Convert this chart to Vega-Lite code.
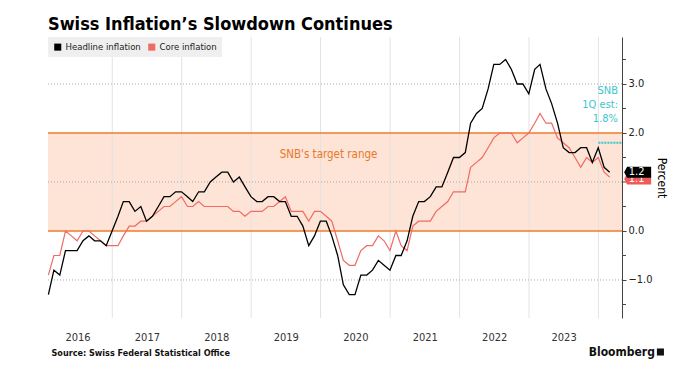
{
  "$schema": "https://vega.github.io/schema/vega-lite/v6.json",
  "width": 574,
  "height": 281,
  "autosize": "none",
  "padding": {"left": 48, "top": 37, "right": 65, "bottom": 64},
  "background": "white",
  "title": {
    "text": "Swiss Inflation’s Slowdown Continues",
    "anchor": "start",
    "frame": "group",
    "font": "DejaVu Sans Condensed, DejaVu Sans",
    "fontSize": 18,
    "fontWeight": "bold",
    "color": "#000000",
    "baseline": "alphabetic",
    "offset": 7,
    "dy": 18
  },
  "datasets": {
    "cpi": [
      {"date": "2016-01-31", "headline": -1.3, "core": -0.9},
      {"date": "2016-02-29", "headline": -0.8, "core": -0.5},
      {"date": "2016-03-31", "headline": -0.9, "core": -0.5},
      {"date": "2016-04-30", "headline": -0.4, "core": 0.0},
      {"date": "2016-05-31", "headline": -0.4, "core": -0.1},
      {"date": "2016-06-30", "headline": -0.4, "core": -0.2},
      {"date": "2016-07-31", "headline": -0.2, "core": 0.0},
      {"date": "2016-08-31", "headline": -0.1, "core": 0.0},
      {"date": "2016-09-30", "headline": -0.2, "core": -0.1},
      {"date": "2016-10-31", "headline": -0.2, "core": -0.2},
      {"date": "2016-11-30", "headline": -0.3, "core": -0.3},
      {"date": "2016-12-31", "headline": 0.0, "core": -0.3},
      {"date": "2017-01-31", "headline": 0.3, "core": -0.3},
      {"date": "2017-02-28", "headline": 0.6, "core": -0.1},
      {"date": "2017-03-31", "headline": 0.6, "core": 0.1},
      {"date": "2017-04-30", "headline": 0.4, "core": 0.1},
      {"date": "2017-05-31", "headline": 0.5, "core": 0.2},
      {"date": "2017-06-30", "headline": 0.2, "core": 0.2},
      {"date": "2017-07-31", "headline": 0.3, "core": 0.3},
      {"date": "2017-08-31", "headline": 0.5, "core": 0.4},
      {"date": "2017-09-30", "headline": 0.7, "core": 0.5},
      {"date": "2017-10-31", "headline": 0.7, "core": 0.5},
      {"date": "2017-11-30", "headline": 0.8, "core": 0.6},
      {"date": "2017-12-31", "headline": 0.8, "core": 0.7},
      {"date": "2018-01-31", "headline": 0.7, "core": 0.5},
      {"date": "2018-02-28", "headline": 0.6, "core": 0.5},
      {"date": "2018-03-31", "headline": 0.8, "core": 0.6},
      {"date": "2018-04-30", "headline": 0.8, "core": 0.5},
      {"date": "2018-05-31", "headline": 1.0, "core": 0.5},
      {"date": "2018-06-30", "headline": 1.1, "core": 0.5},
      {"date": "2018-07-31", "headline": 1.2, "core": 0.5},
      {"date": "2018-08-31", "headline": 1.2, "core": 0.5},
      {"date": "2018-09-30", "headline": 1.0, "core": 0.4},
      {"date": "2018-10-31", "headline": 1.1, "core": 0.4},
      {"date": "2018-11-30", "headline": 0.9, "core": 0.3},
      {"date": "2018-12-31", "headline": 0.7, "core": 0.4},
      {"date": "2019-01-31", "headline": 0.6, "core": 0.4},
      {"date": "2019-02-28", "headline": 0.6, "core": 0.4},
      {"date": "2019-03-31", "headline": 0.7, "core": 0.5},
      {"date": "2019-04-30", "headline": 0.7, "core": 0.5},
      {"date": "2019-05-31", "headline": 0.6, "core": 0.6},
      {"date": "2019-06-30", "headline": 0.6, "core": 0.7},
      {"date": "2019-07-31", "headline": 0.3, "core": 0.4},
      {"date": "2019-08-31", "headline": 0.3, "core": 0.4},
      {"date": "2019-09-30", "headline": 0.1, "core": 0.4},
      {"date": "2019-10-31", "headline": -0.3, "core": 0.2},
      {"date": "2019-11-30", "headline": -0.1, "core": 0.4},
      {"date": "2019-12-31", "headline": 0.2, "core": 0.4},
      {"date": "2020-01-31", "headline": 0.2, "core": 0.3},
      {"date": "2020-02-29", "headline": -0.1, "core": 0.2},
      {"date": "2020-03-31", "headline": -0.5, "core": -0.2},
      {"date": "2020-04-30", "headline": -1.1, "core": -0.6},
      {"date": "2020-05-31", "headline": -1.3, "core": -0.7},
      {"date": "2020-06-30", "headline": -1.3, "core": -0.7},
      {"date": "2020-07-31", "headline": -0.9, "core": -0.4},
      {"date": "2020-08-31", "headline": -0.9, "core": -0.3},
      {"date": "2020-09-30", "headline": -0.8, "core": -0.3},
      {"date": "2020-10-31", "headline": -0.6, "core": -0.1},
      {"date": "2020-11-30", "headline": -0.7, "core": -0.2},
      {"date": "2020-12-31", "headline": -0.8, "core": -0.4},
      {"date": "2021-01-31", "headline": -0.5, "core": 0.0},
      {"date": "2021-02-28", "headline": -0.5, "core": -0.3},
      {"date": "2021-03-31", "headline": -0.2, "core": -0.4},
      {"date": "2021-04-30", "headline": 0.3, "core": 0.1},
      {"date": "2021-05-31", "headline": 0.6, "core": 0.2},
      {"date": "2021-06-30", "headline": 0.6, "core": 0.2},
      {"date": "2021-07-31", "headline": 0.7, "core": 0.2},
      {"date": "2021-08-31", "headline": 0.9, "core": 0.4},
      {"date": "2021-09-30", "headline": 0.9, "core": 0.5},
      {"date": "2021-10-31", "headline": 1.2, "core": 0.6},
      {"date": "2021-11-30", "headline": 1.5, "core": 0.8},
      {"date": "2021-12-31", "headline": 1.5, "core": 0.8},
      {"date": "2022-01-31", "headline": 1.6, "core": 0.8},
      {"date": "2022-02-28", "headline": 2.2, "core": 1.3},
      {"date": "2022-03-31", "headline": 2.4, "core": 1.4},
      {"date": "2022-04-30", "headline": 2.5, "core": 1.5},
      {"date": "2022-05-31", "headline": 2.9, "core": 1.7},
      {"date": "2022-06-30", "headline": 3.4, "core": 1.9},
      {"date": "2022-07-31", "headline": 3.4, "core": 2.0},
      {"date": "2022-08-31", "headline": 3.5, "core": 2.0},
      {"date": "2022-09-30", "headline": 3.3, "core": 2.0},
      {"date": "2022-10-31", "headline": 3.0, "core": 1.8},
      {"date": "2022-11-30", "headline": 3.0, "core": 1.9},
      {"date": "2022-12-31", "headline": 2.8, "core": 2.0},
      {"date": "2023-01-31", "headline": 3.3, "core": 2.2},
      {"date": "2023-02-28", "headline": 3.4, "core": 2.4},
      {"date": "2023-03-31", "headline": 2.9, "core": 2.2},
      {"date": "2023-04-30", "headline": 2.6, "core": 2.2},
      {"date": "2023-05-31", "headline": 2.2, "core": 1.9},
      {"date": "2023-06-30", "headline": 1.7, "core": 1.8},
      {"date": "2023-07-31", "headline": 1.6, "core": 1.7},
      {"date": "2023-08-31", "headline": 1.6, "core": 1.5},
      {"date": "2023-09-30", "headline": 1.7, "core": 1.3},
      {"date": "2023-10-31", "headline": 1.7, "core": 1.5},
      {"date": "2023-11-30", "headline": 1.4, "core": 1.4},
      {"date": "2023-12-31", "headline": 1.7, "core": 1.5},
      {"date": "2024-01-31", "headline": 1.3, "core": 1.2},
      {"date": "2024-02-29", "headline": 1.2, "core": 1.1}
    ]
  },
  "layer": [
    {
      "data": {"values": [{"low": 0, "high": 2}]},
      "mark": {"type": "rect", "color": "#fde4d6"},
      "encoding": {
        "y": {
          "field": "low",
          "type": "quantitative",
          "scale": {"domain": [-1.776, 3.959], "nice": false, "zero": false},
          "axis": {
            "orient": "right",
            "values": [-1, 0, 2, 3],
            "format": ".1f",
            "grid": false,
            "domainColor": "#444444",
            "tickColor": "#444444",
            "tickSize": 4,
            "labelPadding": 2,
            "labelFontSize": 11,
            "labelColor": "#222222",
            "labelOverlap": false,
            "title": "Percent",
            "titleAngle": 90,
            "titleFontSize": 12,
            "titleFontWeight": "normal",
            "titleColor": "#000000",
            "titlePadding": 2
          }
        },
        "y2": {"field": "high"}
      }
    },
    {
      "data": {"values": [
        {"yr": "2017-01-01"}, {"yr": "2018-01-01"}, {"yr": "2019-01-01"}, {"yr": "2020-01-01"},
        {"yr": "2021-01-01"}, {"yr": "2022-01-01"}, {"yr": "2023-01-01"}, {"yr": "2024-01-01"}
      ]},
      "mark": {"type": "rule", "color": "#e3e3e3", "strokeWidth": 1},
      "encoding": {
        "x": {
          "field": "yr",
          "type": "temporal",
          "scale": {
            "type": "utc",
            "domain": [
              {"year": 2016, "month": 1, "date": 29, "utc": true},
              {"year": 2024, "month": 5, "date": 4, "utc": true}
            ],
            "nice": false
          },
          "axis": {
            "values": [
              {"year": 2016, "month": 7, "date": 2, "utc": true},
              {"year": 2017, "month": 7, "date": 2, "utc": true},
              {"year": 2018, "month": 7, "date": 2, "utc": true},
              {"year": 2019, "month": 7, "date": 2, "utc": true},
              {"year": 2020, "month": 7, "date": 2, "utc": true},
              {"year": 2021, "month": 7, "date": 2, "utc": true},
              {"year": 2022, "month": 7, "date": 2, "utc": true},
              {"year": 2023, "month": 7, "date": 2, "utc": true}
            ],
            "format": "%Y",
            "grid": false,
            "ticks": false,
            "domain": false,
            "labelFontSize": 11,
            "labelColor": "#333333",
            "labelPadding": 13,
            "labelFlush": false,
            "labelOverlap": false,
            "title": "Source:  Swiss Federal Statistical Office",
            "titleFontSize": 9,
            "titleFontWeight": "bold",
            "titleColor": "#111111",
            "titleAnchor": "start",
            "titleAlign": "left",
            "titleBaseline": "middle",
            "titleX": 3,
            "titleY": 34
          }
        }
      }
    },
    {
      "data": {"values": [{"g": -1}, {"g": 1}, {"g": 3}]},
      "mark": {"type": "rule", "color": "#a8a8a8", "strokeWidth": 1, "strokeDash": [1, 2]},
      "encoding": {"y": {"field": "g", "type": "quantitative"}}
    },
    {
      "data": {"values": [{"m": -1.5}, {"m": -0.5}, {"m": 0.5}, {"m": 1}, {"m": 1.5}, {"m": 2.5}, {"m": 3.5}]},
      "mark": {"type": "rule", "color": "#444444", "strokeWidth": 1},
      "encoding": {
        "x": {"datum": {"year": 2024, "month": 5, "date": 4, "utc": true}, "type": "temporal"},
        "x2": {"datum": {"year": 2024, "month": 5, "date": 25, "utc": true}},
        "y": {"field": "m", "type": "quantitative"}
      }
    },
    {
      "data": {"values": [{"b": 0}, {"b": 2}]},
      "mark": {"type": "rule", "color": "#f07a2a", "strokeWidth": 1.5},
      "encoding": {"y": {"field": "b", "type": "quantitative"}}
    },
    {
      "data": {"values": [{"at": "2020-02-12", "pos": 1.55, "note": "SNB's target range"}]},
      "mark": {"type": "text", "color": "#e8782a", "fontSize": 11.5, "align": "center", "baseline": "middle"},
      "encoding": {
        "x": {"field": "at", "type": "temporal"},
        "y": {"field": "pos", "type": "quantitative"},
        "text": {"field": "note"}
      }
    },
    {
      "data": {"name": "cpi"},
      "mark": {"type": "line", "strokeWidth": 1.2, "interpolate": "linear"},
      "encoding": {
        "x": {"field": "date", "type": "temporal"},
        "y": {"field": "core", "type": "quantitative"},
        "color": {
          "datum": "Core inflation",
          "type": "nominal",
          "scale": {"domain": ["Headline inflation", "Core inflation"], "range": ["#000000", "#ef6b63"]},
          "legend": {
            "title": null,
            "orient": "top-left",
            "offset": 0,
            "direction": "horizontal",
            "fillColor": "#efefef",
            "padding": 5,
            "symbolType": "square",
            "symbolSize": 50,
            "labelFontSize": 9.5,
            "labelColor": "#222222",
            "columnPadding": 6,
            "symbolOffset": 0,
            "labelOffset": 3,
            "encode": {
              "symbols": {"update": {"fill": {"scale": "color", "field": "value"}, "stroke": {"value": "transparent"}, "strokeWidth": {"value": 0}}}
            }
          }
        }
      }
    },
    {
      "data": {"name": "cpi"},
      "mark": {"type": "line", "strokeWidth": 1.3, "interpolate": "linear"},
      "encoding": {
        "x": {"field": "date", "type": "temporal"},
        "y": {"field": "headline", "type": "quantitative"},
        "color": {"datum": "Headline inflation", "type": "nominal"}
      }
    },
    {
      "data": {"values": [{"from": "2024-01-01", "to": "2024-05-04", "est": 1.8}]},
      "mark": {"type": "rule", "color": "#3cc6cc", "strokeWidth": 2, "strokeDash": [2, 1]},
      "encoding": {
        "x": {"field": "from", "type": "temporal"},
        "x2": {"field": "to"},
        "y": {"field": "est", "type": "quantitative"}
      }
    },
    {
      "data": {"values": [{"at": "2024-04-13", "est": 1.8, "note": ["SNB", "1Q est:", "1.8%"]}]},
      "mark": {"type": "text", "color": "#3cc6cc", "fontSize": 11, "align": "right", "baseline": "middle", "dy": -51.5, "lineHeight": 14},
      "encoding": {
        "x": {"field": "at", "type": "temporal"},
        "y": {"field": "est", "type": "quantitative"},
        "text": {"field": "note"}
      }
    },
    {
      "data": {"values": [{"date": "2024-02-29", "value": 1.1, "label": "1.1"}]},
      "mark": {"type": "point", "filled": true, "color": "#ef5b5b", "opacity": 1, "size": 729, "shape": "M -1 0 L -0.78 -0.41 L 1 -0.41 L 1 0.41 L -0.78 0.41 Z", "xOffset": 28, "yOffset": 2},
      "encoding": {
        "x": {"field": "date", "type": "temporal"},
        "y": {"field": "value", "type": "quantitative"}
      }
    },
    {
      "data": {"values": [{"date": "2024-02-29", "value": 1.1, "label": "1.1"}]},
      "mark": {"type": "text", "color": "#ffffff", "fontSize": 11, "align": "center", "baseline": "middle", "dx": 27, "dy": 2},
      "encoding": {
        "x": {"field": "date", "type": "temporal"},
        "y": {"field": "value", "type": "quantitative"},
        "text": {"field": "label"}
      }
    },
    {
      "data": {"values": [{"date": "2024-02-29", "value": 1.2, "label": "1.2"}]},
      "mark": {"type": "point", "filled": true, "color": "#000000", "opacity": 1, "size": 729, "shape": "M -1 0 L -0.78 -0.41 L 1 -0.41 L 1 0.41 L -0.78 0.41 Z", "xOffset": 28},
      "encoding": {
        "x": {"field": "date", "type": "temporal"},
        "y": {"field": "value", "type": "quantitative"}
      }
    },
    {
      "data": {"values": [{"date": "2024-02-29", "value": 1.2, "label": "1.2"}]},
      "mark": {"type": "text", "color": "#ffffff", "fontSize": 11, "align": "center", "baseline": "middle", "dx": 27},
      "encoding": {
        "x": {"field": "date", "type": "temporal"},
        "y": {"field": "value", "type": "quantitative"},
        "text": {"field": "label"}
      }
    },
    {
      "data": {"values": [{"at": "2024-10-24", "pos": -2.47, "brand": "Bloomberg"}]},
      "mark": {"type": "text", "color": "#111111", "fontSize": 12, "fontWeight": "bold", "align": "right", "baseline": "middle"},
      "encoding": {
        "x": {"field": "at", "type": "temporal"},
        "y": {"field": "pos", "type": "quantitative"},
        "text": {"field": "brand"}
      }
    },
    {
      "data": {"values": [{"at": "2024-11-22", "pos": -2.47}]},
      "mark": {"type": "square", "filled": true, "color": "#111111", "opacity": 1, "size": 50},
      "encoding": {
        "x": {"field": "at", "type": "temporal"},
        "y": {"field": "pos", "type": "quantitative"}
      }
    }
  ],
  "config": {
    "font": "DejaVu Sans Condensed, DejaVu Sans",
    "view": {"stroke": null},
    "axis": {"labelFont": "DejaVu Sans Condensed, DejaVu Sans", "titleFont": "DejaVu Sans Condensed, DejaVu Sans"},
    "legend": {"labelFont": "DejaVu Sans Condensed, DejaVu Sans"},
    "text": {"font": "DejaVu Sans Condensed, DejaVu Sans"}
  }
}
